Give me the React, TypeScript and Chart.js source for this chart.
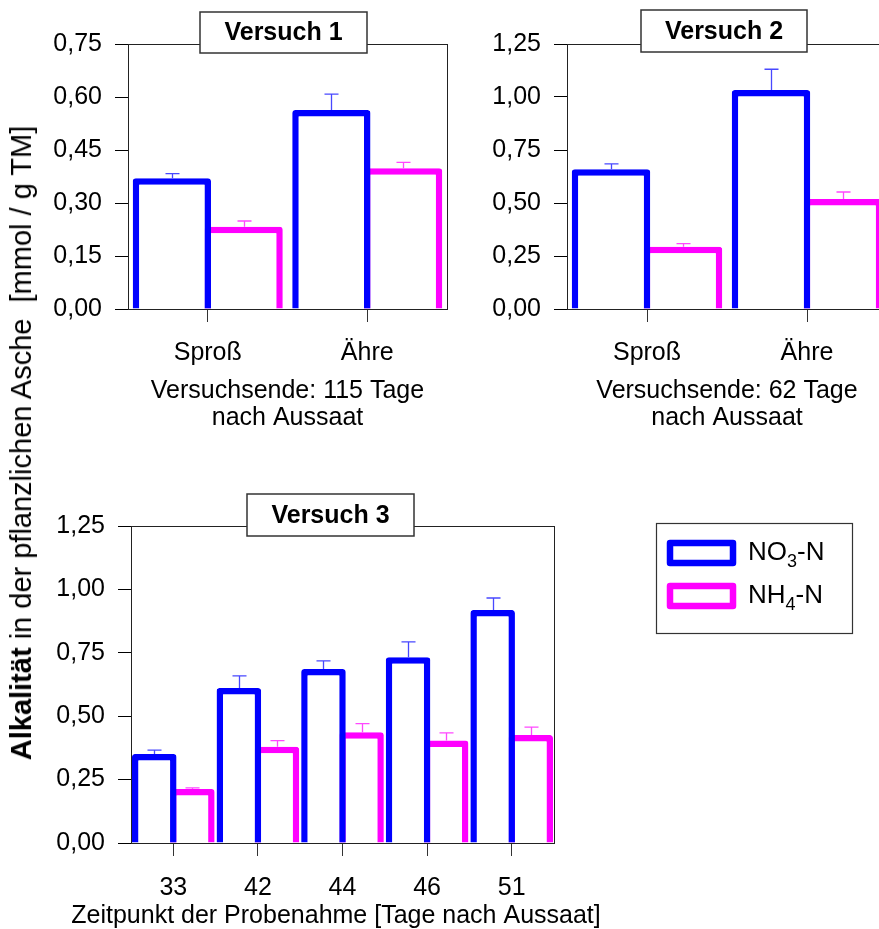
import React, { useEffect, useRef } from 'react';
import { Chart, registerables } from 'chart.js';

Chart.register(...registerables);

const FONT = 'Arial, "Liberation Sans", Helvetica, sans-serif';
const BLUE = '#0000ff';
const MAGENTA = '#ff00ff';
const BLUE_ERR = 'rgba(40, 40, 255, 0.85)';
const MAGENTA_ERR = 'rgba(255, 40, 255, 0.85)';
const BAR_LINE = 6.5;

// ---- Versuch 1 ----
const v1Categories = ['Sproß', 'Ähre'];
const v1No3 = [0.37, 0.563];
const v1No3Err = [0.013, 0.045];
const v1Nh4 = [0.233, 0.398];
const v1Nh4Err = [0.016, 0.017];
const v1YTicks = [0, 0.15, 0.3, 0.45, 0.6, 0.75];
const v1XTitle = ['Versuchsende: 115 Tage', 'nach Aussaat'];

// ---- Versuch 2 ----
const v2Categories = ['Sproß', 'Ähre'];
const v2No3 = [0.659, 1.033];
const v2No3Err = [0.026, 0.098];
const v2Nh4 = [0.294, 0.519];
const v2Nh4Err = [0.014, 0.033];
const v2YTicks = [0, 0.25, 0.5, 0.75, 1.0, 1.25];
const v2XTitle = ['Versuchsende: 62 Tage', 'nach Aussaat'];

// ---- Versuch 3 ----
const v3Categories = ['33', '42', '44', '46', '51'];
const v3No3 = [0.351, 0.611, 0.686, 0.732, 0.919];
const v3No3Err = [0.015, 0.048, 0.032, 0.061, 0.047];
const v3Nh4 = [0.213, 0.38, 0.437, 0.404, 0.426];
const v3Nh4Err = [0.004, 0.024, 0.034, 0.03, 0.031];
const v3YTicks = [0, 0.25, 0.5, 0.75, 1.0, 1.25];
const v3XTitle = 'Zeitpunkt der Probenahme [Tage nach Aussaat]';

const panelTitles = ['Versuch 1', 'Versuch 2', 'Versuch 3'];
// legend names split into base, subscript and tail
const seriesNames = [
  ['NO', '3', '-N'],
  ['NH', '4', '-N'],
];
const yTitleBold = 'Alkalität';
const yTitleRest = ' in der pflanzlichen Asche  [mmol / g TM]';

const fmt = (v: number) => Number(v).toFixed(2).replace('.', ',');

// thin frame around the plot area
const framePlugin = {
  id: 'frame',
  beforeDatasetsDraw(chart: any) {
    const { ctx, chartArea: a } = chart;
    ctx.save();
    ctx.strokeStyle = '#222';
    ctx.lineWidth = 1;
    ctx.strokeRect(Math.round(a.left) + 0.5, Math.round(a.top) + 0.5, Math.round(a.right - a.left), Math.round(a.bottom - a.top));
    ctx.restore();
  },
};

// upper error whiskers on every bar
const errorBarsPlugin = {
  id: 'errorBars',
  afterDatasetsDraw(chart: any) {
    const { ctx } = chart;
    const y = chart.scales.y;
    chart.data.datasets.forEach((ds: any, i: number) => {
      const meta = chart.getDatasetMeta(i);
      ctx.save();
      ctx.strokeStyle = ds.errorColor;
      ctx.lineWidth = 1.3;
      meta.data.forEach((bar: any, j: number) => {
        const top = y.getPixelForValue(ds.data[j] + ds.errors[j]);
        const x = Math.round(bar.x) + 0.5;
        ctx.beginPath();
        ctx.moveTo(x, bar.y);
        ctx.lineTo(x, top);
        ctx.moveTo(x - 7, top);
        ctx.lineTo(x + 7, top);
        ctx.stroke();
      });
      ctx.restore();
    });
  },
};

// boxed panel heading sitting on the top frame line
const titleBoxPlugin = {
  id: 'titleBox',
  afterDraw(chart: any, _args: any, opts: any) {
    if (!opts || !opts.text) return;
    const { ctx } = chart;
    ctx.save();
    ctx.fillStyle = '#fff';
    ctx.fillRect(opts.left, opts.top, opts.width, opts.height);
    ctx.strokeStyle = '#333';
    ctx.lineWidth = 1.5;
    ctx.strokeRect(opts.left, opts.top, opts.width, opts.height);
    ctx.fillStyle = '#000';
    ctx.font = `bold 25px ${FONT}`;
    ctx.textAlign = 'center';
    ctx.textBaseline = 'middle';
    ctx.fillText(opts.text, opts.left + opts.width / 2, opts.top + opts.height / 2 + 1);
    ctx.restore();
  },
};

// free-width axis caption (wider than the plot area)
const captionPlugin = {
  id: 'caption',
  afterDraw(chart: any, _args: any, opts: any) {
    if (!opts || !opts.text) return;
    const { ctx } = chart;
    ctx.save();
    ctx.fillStyle = '#000';
    ctx.font = `25px ${FONT}`;
    ctx.textAlign = 'center';
    ctx.textBaseline = 'middle';
    ctx.fillText(opts.text, opts.x, opts.y);
    ctx.restore();
  },
};

// series key with subscripted formulas
const keyPlugin = {
  id: 'seriesKey',
  afterDraw(chart: any, _args: any, opts: any) {
    if (!opts || !opts.show) return;
    const { ctx } = chart;
    ctx.save();
    ctx.strokeStyle = '#333';
    ctx.lineWidth = 1.2;
    ctx.strokeRect(opts.left + 0.5, opts.top + 0.5, opts.width, opts.height);
    chart.data.datasets.forEach((ds: any, i: number) => {
      const rowY = opts.firstRow + i * opts.rowGap;
      ctx.strokeStyle = ds.borderColor;
      ctx.lineWidth = 6.5;
      ctx.lineJoin = 'round';
      ctx.strokeRect(opts.swatchLeft, rowY - 10, 63, 20);
      const [base, sub, tail] = seriesNames[i];
      ctx.fillStyle = '#000';
      ctx.textBaseline = 'middle';
      ctx.textAlign = 'left';
      ctx.font = `26px ${FONT}`;
      let x = opts.textLeft;
      ctx.fillText(base, x, rowY);
      x += ctx.measureText(base).width;
      ctx.font = `18px ${FONT}`;
      ctx.fillText(sub, x, rowY + 9);
      x += ctx.measureText(sub).width;
      ctx.font = `26px ${FONT}`;
      ctx.fillText(tail, x, rowY);
    });
    ctx.restore();
  },
};

type PanelSpec = {
  categories: string[];
  no3: number[];
  no3Err: number[];
  nh4: number[];
  nh4Err: number[];
  yTicks: number[];
  xTitle: string | string[];
  xTitleInAxis: boolean;
  yAxisWidth: number;
  xAxisHeight: number;
  padding: { left: number; top: number; right: number; bottom: number };
  barPct: number;
  labelPad: number;
  titlePadBottom: number;
  titleLineHeight: number;
  titleBox: any;
  caption?: any;
  key?: any;
};

function makeConfig(p: PanelSpec): any {
  const yMax = p.yTicks[p.yTicks.length - 1];
  const barStyle = {
    backgroundColor: '#ffffff',
    borderWidth: BAR_LINE,
    borderSkipped: 'bottom',
    borderRadius: 3,
    categoryPercentage: 0.9,
    barPercentage: p.barPct,
  };
  return {
    type: 'bar',
    data: {
      labels: p.categories,
      datasets: [
        {
          label: seriesNames[0].join(''),
          data: p.no3,
          errors: p.no3Err,
          errorColor: BLUE_ERR,
          borderColor: BLUE,
          ...barStyle,
        },
        {
          label: seriesNames[1].join(''),
          data: p.nh4,
          errors: p.nh4Err,
          errorColor: MAGENTA_ERR,
          borderColor: MAGENTA,
          ...barStyle,
        },
      ],
    },
    options: {
      responsive: false,
      animation: false,
      devicePixelRatio: 1,
      layout: { padding: p.padding },
      plugins: {
        legend: { display: false },
        tooltip: { enabled: false },
        title: { display: false },
        titleBox: p.titleBox,
        caption: p.caption || {},
        seriesKey: p.key || { show: false },
      },
      scales: {
        x: {
          type: 'category',
          offset: true,
          grid: { offset: false, drawOnChartArea: false, tickLength: 13, color: '#333', lineWidth: 1 },
          border: { display: true, color: '#000', width: 1 },
          ticks: { color: '#000', padding: p.labelPad, font: { family: FONT, size: 25 }, maxRotation: 0, autoSkip: false },
          title: {
            display: p.xTitleInAxis,
            text: p.xTitle,
            color: '#000',
            font: { family: FONT, size: 25, lineHeight: p.titleLineHeight },
            padding: { top: 0, bottom: p.titlePadBottom },
          },
          afterFit(s: any) {
            s.height = p.xAxisHeight;
          },
        },
        y: {
          min: 0,
          max: yMax,
          grid: { drawOnChartArea: false, tickLength: 13, color: '#000', lineWidth: 1 },
          border: { display: true, color: '#000', width: 1 },
          ticks: {
            color: '#000',
            padding: 13,
            font: { family: FONT, size: 25 },
            callback: (v: number) => fmt(v),
          },
          afterBuildTicks(axis: any) {
            axis.ticks = p.yTicks.map((v) => ({ value: v }));
          },
          afterFit(s: any) {
            s.width = p.yAxisWidth;
          },
        },
      },
    },
    plugins: [framePlugin, errorBarsPlugin, titleBoxPlugin, captionPlugin, keyPlugin],
  };
}

const panel1: PanelSpec = {
  categories: v1Categories,
  no3: v1No3,
  no3Err: v1No3Err,
  nh4: v1Nh4,
  nh4Err: v1Nh4Err,
  yTicks: v1YTicks,
  xTitle: v1XTitle,
  xTitleInAxis: true,
  yAxisWidth: 128,
  xAxisHeight: 131,
  padding: { left: 0, top: 44, right: 23, bottom: 0 },
  barPct: (72 + BAR_LINE) / 72,
  labelPad: 16,
  titlePadBottom: 9,
  titleLineHeight: 1.06,
  titleBox: { text: panelTitles[0], left: 200, top: 12, width: 167, height: 41 },
};

const panel2: PanelSpec = {
  categories: v2Categories,
  no3: v2No3,
  no3Err: v2No3Err,
  nh4: v2Nh4,
  nh4Err: v2Nh4Err,
  yTicks: v2YTicks,
  xTitle: v2XTitle,
  xTitleInAxis: true,
  yAxisWidth: 97,
  xAxisHeight: 131,
  padding: { left: 0, top: 44, right: 13, bottom: 0 },
  barPct: (72 + BAR_LINE) / 72,
  labelPad: 16,
  titlePadBottom: 9,
  titleLineHeight: 1.06,
  titleBox: { text: panelTitles[1], left: 171, top: 10, width: 166, height: 42 },
};

const panel3: PanelSpec = {
  categories: v3Categories,
  no3: v3No3,
  no3Err: v3No3Err,
  nh4: v3Nh4,
  nh4Err: v3Nh4Err,
  yTicks: v3YTicks,
  xTitle: v3XTitle,
  xTitleInAxis: false,
  yAxisWidth: 131,
  xAxisHeight: 117,
  padding: { left: 0, top: 86, right: 325, bottom: 0 },
  barPct: (38.1 + BAR_LINE) / 38.1,
  labelPad: 17,
  titlePadBottom: 0,
  titleLineHeight: 1.2,
  titleBox: { text: panelTitles[2], left: 247, top: 54, width: 167, height: 42 },
  caption: { text: v3XTitle, x: 336, y: 476 },
  key: {
    show: true,
    left: 656,
    top: 83,
    width: 196,
    height: 110,
    swatchLeft: 670,
    textLeft: 748,
    firstRow: 113,
    rowGap: 43,
  },
};

function Panel({ spec, left, top, width, height }: { spec: PanelSpec; left: number; top: number; width: number; height: number }) {
  const ref = useRef<HTMLCanvasElement>(null);
  useEffect(() => {
    if (!ref.current) return;
    const chart = new Chart(ref.current, makeConfig(spec));
    return () => chart.destroy();
  }, [spec]);
  return (
    <div style={{ position: 'absolute', left, top, width, height }}>
      <canvas ref={ref} width={width} height={height} />
    </div>
  );
}

export default function App() {
  return (
    <div
      style={{
        position: 'fixed',
        left: 0,
        top: 0,
        width: 879,
        height: 929,
        overflow: 'hidden',
        background: '#fff',
        fontFamily: FONT,
      }}
    >
      <Panel spec={panel1} left={0} top={0} width={470} height={440} />
      <Panel spec={panel2} left={470} top={0} width={430} height={440} />
      <Panel spec={panel3} left={0} top={440} width={879} height={520} />
      <div
        style={{
          position: 'absolute',
          left: 21,
          top: 443,
          transform: 'translate(-50%, -50%) rotate(-90deg)',
          whiteSpace: 'pre',
          fontSize: 29,
          lineHeight: '34px',
          color: '#000',
        }}
      >
        <b>{yTitleBold}</b>
        {yTitleRest}
      </div>
    </div>
  );
}
